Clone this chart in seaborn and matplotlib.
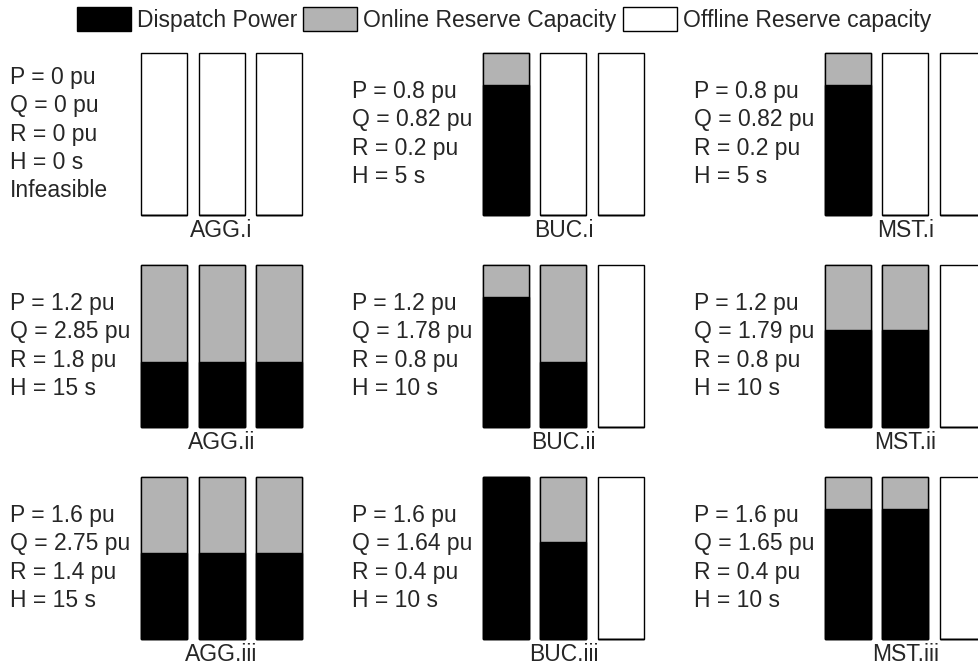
import pandas as pd
import matplotlib
matplotlib.use('Agg')
import matplotlib.pyplot as plt
import seaborn as sns
from matplotlib.patches import Patch

sns.set_style('white')
plt.rcParams['font.family'] = ['Liberation Sans', 'DejaVu Sans']

# one entry per panel, three generating units per panel (capacity 1 pu each)
panels = ['AGG.i', 'BUC.i', 'MST.i',
          'AGG.ii', 'BUC.ii', 'MST.ii',
          'AGG.iii', 'BUC.iii', 'MST.iii']
dispatch = [[0, 0, 0], [0.8, 0, 0], [0.8, 0, 0],
            [0.4, 0.4, 0.4], [0.8, 0.4, 0], [0.6, 0.6, 0],
            [0.533, 0.533, 0.533], [1.0, 0.6, 0], [0.8, 0.8, 0]]
online = [[0, 0, 0], [0.2, 0, 0], [0.2, 0, 0],
          [0.6, 0.6, 0.6], [0.2, 0.6, 0], [0.4, 0.4, 0],
          [0.467, 0.467, 0.467], [0, 0.4, 0], [0.2, 0.2, 0]]
capacity = [1, 1, 1]
notes = ['P = 0 pu\nQ = 0 pu\nR = 0 pu\nH = 0 s\nInfeasible',
         'P = 0.8 pu\nQ = 0.82 pu\nR = 0.2 pu\nH = 5 s',
         'P = 0.8 pu\nQ = 0.82 pu\nR = 0.2 pu\nH = 5 s',
         'P = 1.2 pu\nQ = 2.85 pu\nR = 1.8 pu\nH = 15 s',
         'P = 1.2 pu\nQ = 1.78 pu\nR = 0.8 pu\nH = 10 s',
         'P = 1.2 pu\nQ = 1.79 pu\nR = 0.8 pu\nH = 10 s',
         'P = 1.6 pu\nQ = 2.75 pu\nR = 1.4 pu\nH = 15 s',
         'P = 1.6 pu\nQ = 1.64 pu\nR = 0.4 pu\nH = 10 s',
         'P = 1.6 pu\nQ = 1.65 pu\nR = 0.4 pu\nH = 10 s']

GRAY = '#b3b3b3'
W, H = 979, 666
fig = plt.figure(figsize=(W / 100, H / 100), dpi=100)

col_left = [141, 483, 825]   # px
row_top = [53, 265, 477]     # px
ax_w, ax_h = 161, 162

for i, name in enumerate(panels):
    r, c = divmod(i, 3)
    ax = fig.add_axes([col_left[c] / W, 1 - (row_top[r] + ax_h) / H, ax_w / W, ax_h / H])
    units = [0, 1, 2]
    stacked = [d + o for d, o in zip(dispatch[i], online[i])]
    sns.barplot(x=units, y=capacity, color='white', edgecolor='black', linewidth=1,
                width=0.8, saturation=1, ax=ax)
    sns.barplot(x=units, y=stacked, color=GRAY, edgecolor='black', linewidth=1,
                width=0.8, saturation=1, ax=ax)
    sns.barplot(x=units, y=dispatch[i], color='black', edgecolor='black', linewidth=1,
                width=0.8, saturation=1, ax=ax)
    for p in ax.patches:
        p.set_clip_on(False)
    ax.set_xlim(-0.4, 2.4)
    ax.set_ylim(0, 1)
    ax.axis('off')
    ax.text(-131 / ax_w, 0.5, notes[i], transform=ax.transAxes, ha='left', va='center',
            fontsize=16.5, linespacing=1.3)
    ax.text(0.5, -22 / ax_h, name, transform=ax.transAxes, ha='center', va='baseline',
            fontsize=16.5)

handles = [Patch(facecolor='black', edgecolor='black', label='Dispatch Power'),
           Patch(facecolor=GRAY, edgecolor='black', label='Online Reserve Capacity'),
           Patch(facecolor='white', edgecolor='black', label='Offline Reserve capacity')]
fig.legend(handles=handles, loc='center left', bbox_to_anchor=(77 / W, 1 - 19.5 / H), ncol=3,
           frameon=False, fontsize=16.5, handlelength=2.36, handleheight=1.2,
           handletextpad=0.26, columnspacing=0.26, borderaxespad=0, borderpad=0)

fig.savefig('out.png', dpi=100)
